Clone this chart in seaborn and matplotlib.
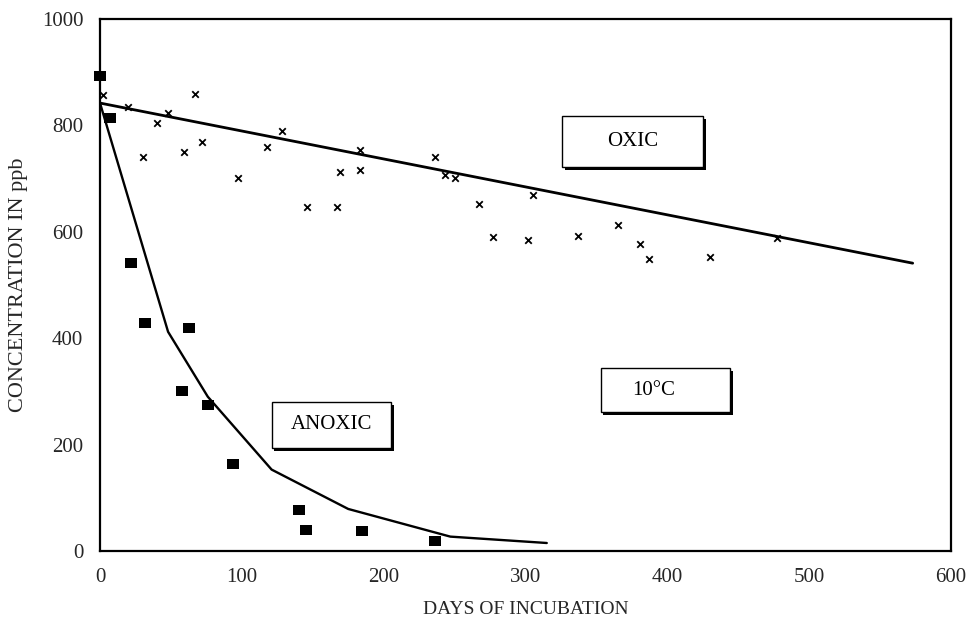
import matplotlib
matplotlib.use("Agg")
import matplotlib.pyplot as plt
import matplotlib.patheffects as pe
from matplotlib.patches import Rectangle
from matplotlib.ticker import MultipleLocator
import seaborn as sns
import pandas as pd

# Anoxic incubation: measured concentrations (ppb) vs days
anoxic_days = [0, 7, 22, 32, 63, 58, 76, 94, 140, 145, 185, 236]
anoxic_conc = [893, 814, 541, 429, 419, 301, 274, 164, 77, 39, 38, 18]

# Anoxic fitted decay curve
anoxic_fit_days = [0, 48, 76, 121, 175, 247, 315]
anoxic_fit_conc = [842, 412, 290, 153, 79, 27, 15]

# Oxic incubation: measured concentrations (ppb) vs days
oxic_days = [2, 20, 30, 40, 48, 59, 67, 72, 97, 118, 128, 146, 167, 169,
             183, 183, 236, 243, 250, 267, 277, 302, 305, 337, 365, 381,
             387, 430, 477]
oxic_conc = [857, 834, 741, 804, 823, 750, 859, 769, 701, 760, 789, 647,
             647, 712, 754, 716, 740, 707, 701, 652, 590, 585, 669, 592,
             613, 577, 549, 553, 588]

# Oxic linear fit
oxic_fit_days = [0, 573]
oxic_fit_conc = [842, 541]

x_ticks = [0, 100, 200, 300, 400, 500, 600]
y_ticks = [0, 200, 400, 600, 800, 1000]

sns.set_theme(style="white")
plt.rcParams["font.family"] = ["Liberation Serif", "DejaVu Serif"]

fig = plt.figure(figsize=(9.69, 6.23), dpi=100)
ax = fig.add_axes([0.1032, 0.1156, 0.8782, 0.8539])

anoxic_df = pd.DataFrame({"days": anoxic_days, "conc": anoxic_conc})
oxic_df = pd.DataFrame({"days": oxic_days, "conc": oxic_conc})
anoxic_fit = pd.DataFrame({"days": anoxic_fit_days, "conc": anoxic_fit_conc})
oxic_fit = pd.DataFrame({"days": oxic_fit_days, "conc": oxic_fit_conc})

sns.lineplot(data=oxic_fit, x="days", y="conc", ax=ax, color="black",
             linewidth=2.0, sort=False, estimator=None)
sns.lineplot(data=anoxic_fit, x="days", y="conc", ax=ax, color="black",
             linewidth=1.7, sort=False, estimator=None)

rect_marker = [(-1.2, -1.0), (1.2, -1.0), (1.2, 1.0), (-1.2, 1.0), (-1.2, -1.0)]
sns.scatterplot(data=anoxic_df, x="days", y="conc", ax=ax, marker=rect_marker,
                s=85, color="black", edgecolor="black", linewidth=0,
                zorder=5, clip_on=False)
sns.scatterplot(data=oxic_df, x="days", y="conc", ax=ax, marker="x",
                s=22, color="black", linewidth=1.3, zorder=5, clip_on=False)

ax.set_xlim(0, 600)
ax.set_ylim(0, 1000)
ax.set_xticks(x_ticks)
ax.set_yticks(y_ticks)
ax.xaxis.set_minor_locator(MultipleLocator(50))
ax.tick_params(axis="both", which="both", direction="in", length=4,
               width=1.0, color="black", labelsize=15, pad=10)
ax.tick_params(axis="x", which="major", pad=12)
ax.tick_params(axis="y", which="major", pad=12)

for side in ax.spines.values():
    side.set_color("black")
    side.set_linewidth(1.6)

ax.set_xlabel("DAYS OF INCUBATION", fontsize=14, labelpad=10)
ax.set_ylabel("CONCENTRATION IN ppb", fontsize=16, labelpad=10)


def label_box(x0, x1, y0, y1, text, tx=None):
    box = Rectangle((x0, y0), x1 - x0, y1 - y0, transform=ax.transData,
                    facecolor="white", edgecolor="black", linewidth=1.0,
                    zorder=6)
    box.set_path_effects([pe.SimplePatchShadow(offset=(2, -2),
                                               shadow_rgbFace="black",
                                               alpha=1.0),
                          pe.Normal()])
    ax.add_patch(box)
    cx = (x0 + x1) / 2 if tx is None else tx
    ax.text(cx, (y0 + y1) / 2, text, ha="center", va="center",
            fontsize=15, color="black", zorder=7)


label_box(326, 425, 722, 818, "OXIC")
label_box(121, 205, 194, 280, "ANOXIC")
label_box(353, 444, 261, 344, "10°C", tx=390)

fig.savefig("out.png", dpi=100, facecolor="white")
